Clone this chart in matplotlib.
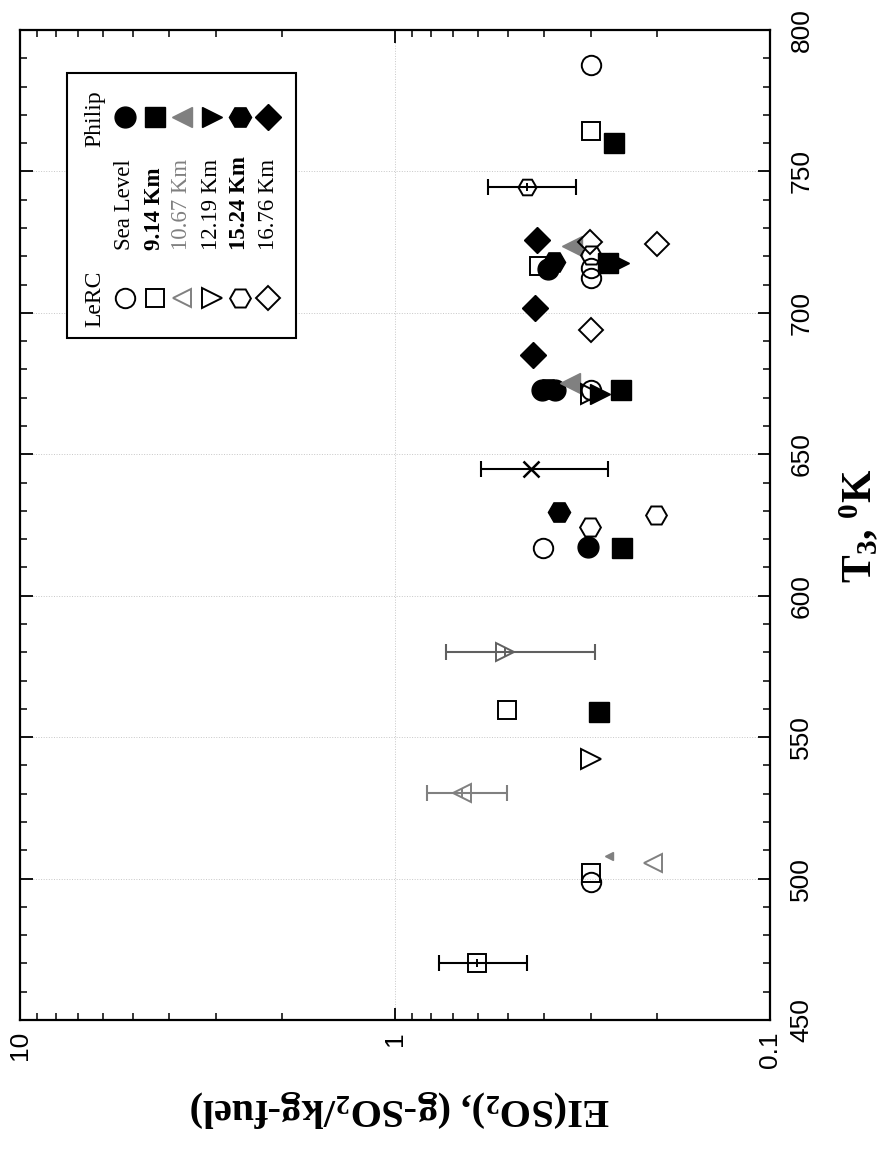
import numpy as np
import matplotlib
matplotlib.use("Agg")
import matplotlib.pyplot as plt
from matplotlib.ticker import FixedLocator, MultipleLocator, LogLocator, NullFormatter
from matplotlib.patches import Rectangle

plt.rcParams['mathtext.fontset'] = 'custom'
plt.rcParams['mathtext.rm'] = 'Liberation Serif:bold'
plt.rcParams['mathtext.it'] = 'Liberation Serif:bold'
plt.rcParams['mathtext.bf'] = 'Liberation Serif:bold'

# The page is printed turned 90 degrees: EI runs along the bottom, T3 up the right side.

# LeRC measurements (open symbols): T3 [K], EI(SO2) [g/kg]
lerc_sea_T = [787.6, 715.9, 712.3, 672.7, 498.8, 617.0]
lerc_sea_EI = [0.300, 0.300, 0.300, 0.300, 0.300, 0.403]
lerc_914_T = [764.3, 716.5, 559.6, 502.0]
lerc_914_EI = [0.300, 0.413, 0.503, 0.300]
lerc_1067_T = [505.5]
lerc_1067_EI = [0.205]
lerc_1219_T = [542.3, 671.5]
lerc_1219_EI = [0.300, 0.300]
lerc_1524_T = [720.5, 628.5, 624.3]
lerc_1524_EI = [0.300, 0.201, 0.302]
lerc_1676_T = [724.3, 725.0, 693.9]
lerc_1676_EI = [0.200, 0.302, 0.300]

# LeRC points with error bars: (T3, EI, low, high)
err_914 = (470.2, 0.605, 0.445, 0.763)
err_1067 = (530.3, 0.663, 0.503, 0.822)
err_1219 = (580.1, 0.509, 0.293, 0.731)
err_1524 = (744.5, 0.444, 0.329, 0.565)
err_cross = (644.8, 0.434, 0.270, 0.590)

# Philip model (filled symbols)
phil_sea_T = [715.5, 672.7, 672.7, 617.2]
phil_sea_EI = [0.390, 0.405, 0.375, 0.305]
phil_914_T = [760.1, 717.5, 672.7, 617.0, 558.9]
phil_914_EI = [0.261, 0.270, 0.250, 0.248, 0.286]
phil_1067_T = [723.5, 675.2]
phil_1067_EI = [0.337, 0.341]
phil_1067_small_T = [508.0]
phil_1067_small_EI = [0.269]
phil_1219_T = [717.5, 671.5]
phil_1219_EI = [0.252, 0.284]
phil_1524_T = [629.6, 718.0, 673.0]
phil_1524_EI = [0.366, 0.377, 0.390]
phil_1676_T = [725.8, 701.7, 685.1]
phil_1676_EI = [0.418, 0.424, 0.429]

alt_labels = ["Sea Level", "9.14 Km", "10.67 Km", "12.19 Km", "15.24 Km", "16.76 Km"]
alt_markers = ['o', 's', '<', '>', 'H', 'D']     # as seen on the turned page
alt_colors = ['black', 'black', '#808080', 'black', 'black', 'black']
alt_weights = ['normal', 'bold', 'normal', 'normal', 'bold', 'normal']
alt_sizes = [14, 13, 13, 14, 15, 12]

T_ticks = [450, 500, 550, 600, 650, 700, 750, 800]
EI_ticks = [10, 1, 0.1]
EI_ticklabels = ['10', '1', '0.1']

fig = plt.figure(figsize=(8.91, 11.51), dpi=100)
ax = fig.add_axes([0.0224, 0.1138, 0.8418, 0.8601])
ax.set_xscale('log')
ax.set_xlim(10, 0.1)
ax.set_ylim(450, 800)

lerc = [(lerc_sea_T, lerc_sea_EI), (lerc_914_T, lerc_914_EI), (lerc_1067_T, lerc_1067_EI),
        (lerc_1219_T, lerc_1219_EI), (lerc_1524_T, lerc_1524_EI), (lerc_1676_T, lerc_1676_EI)]
phil = [(phil_sea_T, phil_sea_EI), (phil_914_T, phil_914_EI), (phil_1067_T, phil_1067_EI),
        (phil_1219_T, phil_1219_EI), (phil_1524_T, phil_1524_EI), (phil_1676_T, phil_1676_EI)]

for i, (T, EI) in enumerate(phil):
    ax.plot(EI, T, ls='none', marker=alt_markers[i], ms=alt_sizes[i] + 1,
            mfc=alt_colors[i], mec=alt_colors[i], zorder=3)
ax.plot(phil_1067_small_EI, phil_1067_small_T, ls='none', marker='<', ms=6,
        mfc='#808080', mec='#808080', zorder=3)

for i, (T, EI) in enumerate(lerc):
    ax.plot(EI, T, ls='none', marker=alt_markers[i], ms=alt_sizes[i],
            mfc='none', mec=alt_colors[i], mew=1.4, zorder=4)

# error-bar points
for (T, EI, lo, hi), mk, col in [(err_914, 's', 'black'), (err_1067, '<', '#808080'),
                                 (err_1219, '>', '#606060'), (err_1524, 'H', 'black'),
                                 (err_cross, 'x', 'black')]:
    ax.errorbar([EI], [T], xerr=[[EI - lo], [hi - EI]], fmt='none', ecolor=col,
                elinewidth=1.5, capsize=6, capthick=1.5, zorder=4)
    if mk == 'x':
        ax.plot([EI], [T], ls='none', marker='x', ms=11, mec=col, mew=1.8, zorder=5)
    else:
        ax.plot([EI], [T], ls='none', marker=mk, ms=13, mfc='none', mec=col, mew=1.4, zorder=5)
        ax.plot([EI], [T], ls='none', marker='+', ms=6, mec=col, mew=1.4, zorder=5)

# axes styling
ax.yaxis.set_major_locator(FixedLocator(T_ticks))
ax.yaxis.set_minor_locator(MultipleLocator(10))
ax.set_xticks(EI_ticks)
ax.set_xticklabels(EI_ticklabels)
ax.xaxis.set_minor_locator(LogLocator(base=10, subs=np.arange(2, 10)))
ax.xaxis.set_minor_formatter(NullFormatter())
ax.tick_params(which='both', direction='in', top=True, bottom=True, left=True, right=True,
               labelleft=False, labelright=True, labelbottom=True)
ax.tick_params(which='major', length=9, width=1.3)
ax.tick_params(which='minor', length=5, width=1.1)
ax.tick_params(axis='y', pad=14)
ax.tick_params(axis='x', pad=8)
for lbl in ax.get_yticklabels():
    lbl.set_rotation(90)
    lbl.set_va('center')
    lbl.set_family('Liberation Sans')
    lbl.set_fontsize(19)
for lbl in ax.get_xticklabels():
    lbl.set_rotation(90)
    lbl.set_ha('center')
    lbl.set_family('Liberation Sans')
    lbl.set_fontsize(19)
for s in ax.spines.values():
    s.set_linewidth(1.6)
ax.grid(True, which='major', ls=':', color='0.78', lw=0.7)

# legend box drawn turned, like the page
ax.add_patch(Rectangle((0.0627, 0.689), 0.305, 0.268, transform=ax.transAxes,
                       facecolor='white', edgecolor='black', lw=1.5, zorder=6))
ax.text(0.10, 0.700, "LeRC", transform=ax.transAxes, rotation=90, ha='center', va='bottom',
        family='Liberation Serif', fontsize=17, zorder=7)
ax.text(0.10, 0.910, "Philip", transform=ax.transAxes, rotation=90, ha='center', va='center',
        family='Liberation Serif', fontsize=17, zorder=7)
col_x = [0.140, 0.180, 0.216, 0.256, 0.293, 0.331]
for i, xc in enumerate(col_x):
    ax.plot([xc], [0.729], transform=ax.transAxes, ls='none', marker=alt_markers[i],
            ms=alt_sizes[i], mfc='none', mec=alt_colors[i], mew=1.4, zorder=7, clip_on=False)
    ax.plot([xc], [0.912], transform=ax.transAxes, ls='none', marker=alt_markers[i],
            ms=alt_sizes[i] + 1, mfc=alt_colors[i], mec=alt_colors[i], zorder=7, clip_on=False)
    ax.text(xc, 0.778, alt_labels[i], transform=ax.transAxes, rotation=90, ha='center',
            va='bottom', family='Liberation Serif', fontsize=16.5, weight=alt_weights[i],
            color=alt_colors[i], zorder=7)

# axis titles
fig.text(0.965, 0.543, r"T$_3$, $^0$K", rotation=90, ha='center', va='center',
         family='Liberation Serif', weight='bold', fontsize=30)
fig.text(0.449, 0.037, r"EI(SO$_2$), (g-SO$_2$/kg-fuel)", rotation=180, ha='center',
         va='center', family='Liberation Serif', weight='bold', fontsize=29)

fig.savefig("out.png", dpi=100)
